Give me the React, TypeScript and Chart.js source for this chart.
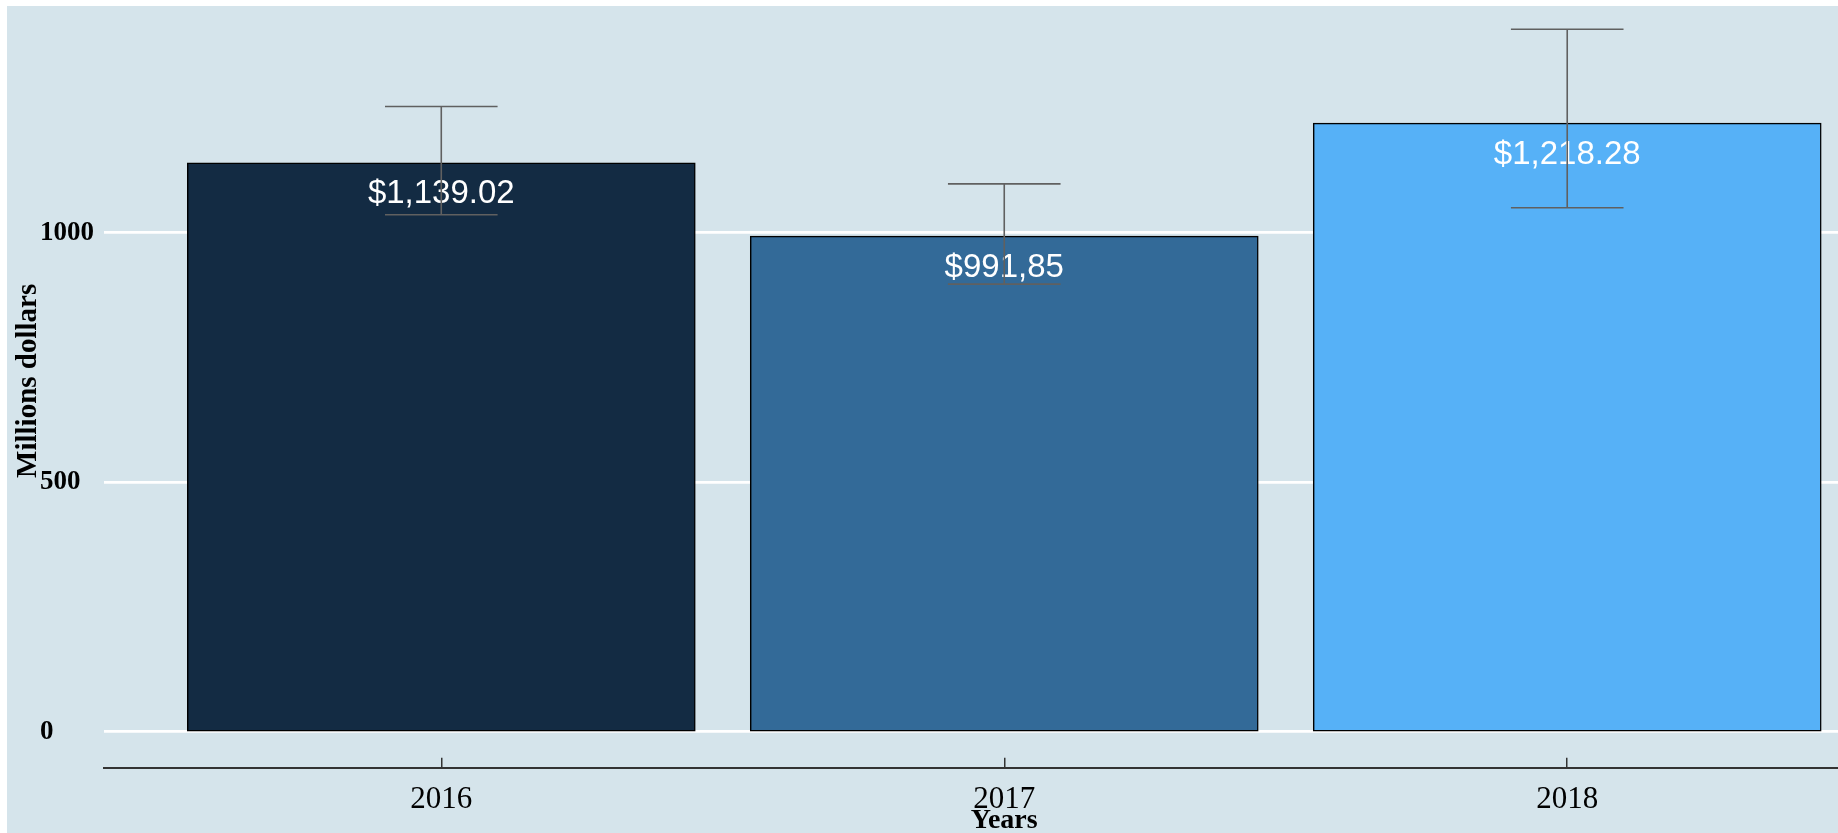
import React, { useEffect, useRef } from 'react';
import { Chart, registerables } from 'chart.js';

Chart.register(...registerables);

const years = ['2016', '2017', '2018'];
const revenue = [1139.02, 991.85, 1218.28];
const valueLabels = ['$1,139.02', '$991,85', '$1,218.28'];
const errLower = [1036, 897, 1050];
const errUpper = [1253, 1098, 1408];
const yTickValues = [0, 500, 1000];
const barColors = ['#132B43', '#336A98', '#56B1F7'];

const SERIF = '"Liberation Serif", "Times New Roman", serif';
const SANS = '"Liberation Sans", Arial, sans-serif';
const ERRORBAR_WIDTH = 0.2;
const LABEL_OFFSET = 31;

const overlayPlugin = {
  id: 'overlay',
  afterDatasetsDraw(chart: any) {
    const { ctx } = chart;
    const x = chart.scales.x;
    const y = chart.scales.y;
    const meta = chart.getDatasetMeta(0);
    ctx.save();
    ctx.fillStyle = '#ffffff';
    ctx.font = `33px ${SANS}`;
    ctx.textAlign = 'center';
    ctx.textBaseline = 'middle';
    meta.data.forEach((bar: any, i: number) => {
      ctx.fillText(valueLabels[i], bar.x, bar.y + LABEL_OFFSET);
    });
    ctx.strokeStyle = '#606060';
    ctx.lineWidth = 1.6;
    revenue.forEach((_, i) => {
      const cx = x.getPixelForValue(i);
      const l = x.getPixelForValue(i - ERRORBAR_WIDTH / 2);
      const r = x.getPixelForValue(i + ERRORBAR_WIDTH / 2);
      const yt = y.getPixelForValue(errUpper[i]);
      const yb = y.getPixelForValue(errLower[i]);
      ctx.beginPath();
      ctx.moveTo(cx, yt);
      ctx.lineTo(cx, yb);
      ctx.moveTo(l, yt);
      ctx.lineTo(r, yt);
      ctx.moveTo(l, yb);
      ctx.lineTo(r, yb);
      ctx.stroke();
    });
    ctx.restore();
  },
};

export default function App() {
  const ref = useRef<HTMLCanvasElement | null>(null);

  useEffect(() => {
    if (!ref.current) return;
    const chart = new Chart(ref.current, {
      type: 'bar',
      data: {
        datasets: [
          {
            data: revenue.map((v, i) => ({ x: i, y: v })),
            backgroundColor: barColors,
            borderColor: '#000000',
            borderWidth: 1.5,
            borderSkipped: false,
            inflateAmount: 1,
            barPercentage: 0.9,
            categoryPercentage: 1,
          } as any,
        ],
      },
      options: {
        responsive: false,
        animation: false,
        layout: { padding: { left: 33, right: 2, top: 0, bottom: 0 } },
        plugins: {
          legend: { display: false },
          tooltip: { enabled: false },
        },
        scales: {
          x: {
            type: 'linear',
            offset: false,
            min: -0.6,
            max: 2.6,
            afterBuildTicks: (s: any) => {
              s.ticks = years.map((_, i) => ({ value: i }));
            },
            afterFit: (s: any) => {
              s.height = 65.3;
              s.paddingLeft = 0;
              s.paddingRight = 0;
            },
            ticks: {
              callback: (v: any) => years[v] ?? '',
              font: { family: SERIF, size: 31 },
              color: '#000000',
              padding: 24,
              maxRotation: 0,
              autoSkip: false,
            },
            grid: {
              display: true,
              offset: false,
              drawOnChartArea: false,
              drawTicks: true,
              tickLength: -10,
              color: '#333333',
              lineWidth: 1.5,
            },
            border: { display: true, color: '#333333', width: 2 },
            title: {
              display: true,
              text: 'Years',
              color: '#000000',
              font: { family: SERIF, size: 28, weight: 'bold', lineHeight: 1 },
              padding: { top: 0, bottom: -1.5 },
            },
          } as any,
          y: {
            min: -72,
            max: 1478.5,
            afterBuildTicks: (s: any) => {
              s.ticks = yTickValues.map((v) => ({ value: v }));
            },
            afterFit: (s: any) => {
              s.width = 63.5;
              s.paddingTop = 0;
              s.paddingBottom = 0;
            },
            ticks: {
              crossAlign: 'far',
              callback: (v: any) => String(v),
              font: { family: SERIF, size: 27, weight: 'bold' },
              color: '#000000',
            },
            grid: { color: '#ffffff', lineWidth: 2.7, drawTicks: false },
            border: { display: false },
            title: {
              display: true,
              text: 'Millions dollars',
              color: '#000000',
              font: { family: SERIF, size: 29, weight: 'bold', lineHeight: 1 },
              padding: { top: -25.5, bottom: 0 },
            },
          } as any,
        },
      },
      plugins: [overlayPlugin],
    });
    return () => chart.destroy();
  }, []);

  return (
    <div
      style={{
        position: 'fixed',
        left: 7,
        top: 6,
        width: 1831,
        height: 827,
        overflow: 'hidden',
        background: '#d5e4eb',
      }}
    >
      <canvas
        ref={ref}
        width={1900}
        height={839}
        style={{ position: 'absolute', left: 0, top: -12, width: 1900, height: 839 }}
      />
    </div>
  );
}
